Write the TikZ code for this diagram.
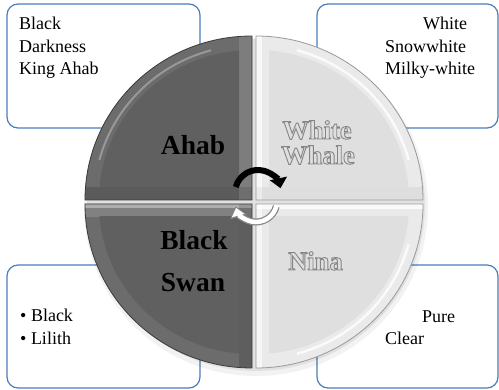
\documentclass[tikz,border=0pt]{standalone}
\usepackage{fontspec}
\setmainfont{Liberation Serif}
\usetikzlibrary{arrows.meta}
\definecolor{boxblue}{HTML}{4A7EBB}
\definecolor{darkface}{HTML}{606060}
\definecolor{darkbevel}{HTML}{6C6C6C}
\definecolor{darkedge}{HTML}{3A3A3A}
\definecolor{lightface}{HTML}{DFDFDF}
\definecolor{lightbevel}{HTML}{EAEAEA}
\definecolor{lightedge}{HTML}{9A9A9A}
\definecolor{hollowedge}{HTML}{858585}
\newcommand\qpath[3]{(#1,#2) -- ++(#3:167pt and 164pt) arc[start angle=#3, end angle=#3-90, x radius=167pt, y radius=164pt] -- cycle}
\newcommand\hollowtxt[1]{{\color{hollowedge}\special{pdf:literal direct 1 Tr 0.9 w}#1\special{pdf:literal direct 0 Tr}}}
\tikzset{
  infobox/.style={draw=boxblue, line width=1.2pt, rounded corners=11pt, fill=white, inner sep=0pt},
  boxtext/.style={font=\fontsize{18}{22}\selectfont, inner sep=0pt, anchor=base west, text=black},
  bigtext/.style={font=\fontsize{27.5}{30}\selectfont\bfseries, inner sep=0pt, anchor=base},
  hollowbig/.style={font=\fontsize{26.5}{28}\selectfont\bfseries, inner sep=0pt, anchor=base},
  qedgeD/.style={draw=darkedge, line width=0.8pt},
  qedgeL/.style={draw=lightedge, line width=0.8pt},
}
\begin{document}
\begin{tikzpicture}[x=1pt,y=-1pt]
\useasboundingbox (0,0) rectangle (499,390);

% side boxes
\node[infobox, minimum width=193pt, minimum height=124pt] (boxTL) at (103.5,66) {};
\node[infobox, minimum width=181pt, minimum height=124pt] (boxTR) at (407.5,66) {};
\node[infobox, minimum width=193pt, minimum height=123pt] (boxBL) at (103.5,326.5) {};
\node[infobox, minimum width=181pt, minimum height=123pt] (boxBR) at (407.5,326.5) {};

\node[boxtext] (tl1) at (19,30) {Black};
\node[boxtext] (tl2) at (19,53) {Darkness};
\node[boxtext] (tl3) at (19,75) {King Ahab};
\node[boxtext] (tr1) at (423,30) {White};
\node[boxtext] (tr2) at (385,53) {Snowwhite};
\node[boxtext] (tr3) at (385,75) {Milky-white};
\node[boxtext] (bl1) at (20,322) {\textbullet\ Black};
\node[boxtext] (bl2) at (20,345) {\textbullet\ Lilith};
\node[boxtext] (br1) at (422,323) {Pure};
\node[boxtext] (br2) at (385,345) {Clear};

% shadow of the disc
\fill[black,opacity=0.05] (256,207) ellipse[x radius=172pt, y radius=169pt];
\fill[black,opacity=0.07] (256,205) ellipse[x radius=169pt, y radius=166pt];

% top-left quadrant (dark)
\fill[darkbevel] \qpath{252}{200}{180};
\begin{scope}
  \clip \qpath{252}{200}{180};
  \fill[black,opacity=0.15] (40,187) rectangle (252,200);
  \fill[white,opacity=0.12] (239,20) rectangle (252,200);
  \draw[white,opacity=0.3,line width=2pt] (252,200) ++(165:158pt and 155pt) arc[start angle=165, end angle=105, x radius=158pt, y radius=155pt];
  \clip (239,187) rectangle (40,20);
  \fill[darkface] (252,200) ellipse[x radius=153pt, y radius=150pt];
\end{scope}
\draw[qedgeD] \qpath{252}{200}{180};

% bottom-left quadrant (dark)
\fill[darkbevel] \qpath{252}{204}{270};
\begin{scope}
  \clip \qpath{252}{204}{270};
  \fill[white,opacity=0.45] (40,204) rectangle (252,208);
  \fill[white,opacity=0.15] (40,208) rectangle (252,217);
  \fill[black,opacity=0.12] (239,204) rectangle (252,390);
  \clip (239,217) rectangle (40,390);
  \fill[darkface] (252,204) ellipse[x radius=153pt, y radius=150pt];
\end{scope}
\draw[qedgeD] \qpath{252}{204}{270};

% top-right quadrant (light)
\fill[lightbevel] \qpath{256}{200}{90};
\begin{scope}
  \clip \qpath{256}{200}{90};
  \fill[white,opacity=0.7] (256,20) rectangle (262,200);
  \fill[black,opacity=0.05] (256,187) rectangle (460,200);
  \draw[white,opacity=0.8,line width=2.5pt] (256,200) ++(75:158pt and 155pt) arc[start angle=75, end angle=15, x radius=158pt, y radius=155pt];
  \clip (269,187) rectangle (460,20);
  \fill[lightface] (256,200) ellipse[x radius=153pt, y radius=150pt];
\end{scope}
\draw[qedgeL] \qpath{256}{200}{90};

% bottom-right quadrant (light)
\fill[lightbevel] \qpath{256}{204}{0};
\begin{scope}
  \clip \qpath{256}{204}{0};
  \fill[white,opacity=0.8] (256,204) rectangle (460,209);
  \fill[white,opacity=0.6] (256,204) rectangle (262,390);
  \draw[white,opacity=0.8,line width=2.5pt] (256,204) ++(-15:158pt and 155pt) arc[start angle=-15, end angle=-75, x radius=158pt, y radius=155pt];
  \clip (269,217) rectangle (460,390);
  \fill[lightface] (256,204) ellipse[x radius=153pt, y radius=150pt];
\end{scope}
\draw[qedgeL] \qpath{256}{204}{0};

% quadrant labels
\node[bigtext] (ahab) at (193,155) {Ahab};
\node[bigtext] (black) at (194,250) {Black};
\node[bigtext] (swan) at (193,292) {Swan};
\node[hollowbig] (white) at (317,139) {\hollowtxt{White}};
\node[hollowbig] (whale) at (318,164) {\hollowtxt{Whale}};
\node[hollowbig] (nina) at (315.5,270) {\hollowtxt{Nina}};

% cycle arrows in the middle
\draw[black, line width=6pt, -{Triangle[length=10pt,width=17pt]}]
  (258,193) ++(165:23pt) arc[start angle=165, end angle=12, radius=23pt];
\draw[hollowedge, line width=7pt, -{Triangle[length=11pt,width=17pt]}]
  (256,201) ++(-15:21pt) arc[start angle=-15, end angle=-165, radius=21pt];
\draw[white, line width=4.5pt, shorten >=1.5pt, -{Triangle[length=8pt,width=12.5pt]}]
  (256,201) ++(-13:21pt) arc[start angle=-13, end angle=-165, radius=21pt];
\end{tikzpicture}
\end{document}
